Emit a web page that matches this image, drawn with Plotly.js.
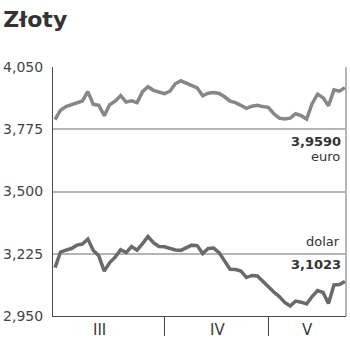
<!DOCTYPE html>
<html>
<head>
<meta charset="utf-8">
<script src="https://cdn.plot.ly/plotly-3.0.1.min.js"></script>
<style>html,body{margin:0;padding:0;background:#fff;}#chart{width:350px;height:351px;}</style>
</head>
<body>
<div id="chart"></div>
<script>
// trading-day index (March .. May)
const days = [0,1,2,3,4,5,6,7,8,9,10,11,12,13,14,15,16,17,18,19,20,21,22,23,24,25,26,27,28,29,30,31,32,33,34,35,36,37,38,39,40,41,42,43,44,45,46,47,48,49,50,51,52,53];
const euro = [3.817,3.859,3.875,3.884,3.893,3.900,3.941,3.885,3.881,3.835,
              3.883,3.899,3.924,3.895,3.901,3.893,3.941,3.963,3.947,3.938,
              3.932,3.943,3.976,3.989,3.978,3.966,3.958,3.9225,3.934,3.937,
              3.933,3.9185,3.899,3.8925,3.880,3.867,3.877,3.881,3.875,3.872,
              3.8435,3.824,3.8205,3.824,3.8435,3.835,3.820,3.888,3.930,3.914,
              3.879,3.949,3.943,3.959];
const dollar = [3.164,3.232,3.241,3.248,3.263,3.268,3.290,3.239,3.216,3.148,
                3.186,3.210,3.243,3.230,3.257,3.241,3.270,3.301,3.274,3.257,
                3.256,3.248,3.242,3.240,3.250,3.263,3.261,3.226,3.248,3.250,
                3.230,3.1905,3.1565,3.155,3.1485,3.120,3.129,3.1265,3.102,3.078,
                3.056,3.036,3.0096,2.994,3.016,3.011,3.003,3.036,3.0625,3.054,
                3.005,3.087,3.089,3.1023];
const yTickVals = [2.950, 3.225, 3.500, 3.775, 4.050];
const yTickText = ['2,950', '3,225', '3,500', '3,775', '4,050'];
const darkLines = [3.225, 3.775];
const monthBounds = [20, 39];
const months = ['III', 'IV', 'V'];
const monthPos = [8.2, 29.7, 46.1];
const euroLast = '3,9590';
const dollarLast = '3,1023';

const traces = [
  {x: days, y: euro, type: 'scatter', mode: 'lines', line: {color: '#878787', width: 3.5}, hoverinfo: 'skip'},
  {x: days, y: dollar, type: 'scatter', mode: 'lines', line: {color: '#6a6a6a', width: 3.5}, hoverinfo: 'skip'}
];

const shapes = darkLines.map(v => ({type: 'line', xref: 'paper', x0: 0, x1: 1, yref: 'y', y0: v, y1: v,
  line: {color: '#4a4a4a', width: 1}, layer: 'below'}));
shapes.push({type: 'line', xref: 'paper', x0: 1, x1: 1, yref: 'paper', y0: 0, y1: 1,
  line: {color: '#b5b5b5', width: 2}, layer: 'below'});

const annotations = months.map((m, i) => ({x: monthPos[i], xref: 'x', y: -0.055, yref: 'paper',
  text: m, showarrow: false, xanchor: 'center', yanchor: 'middle',
  font: {family: 'DejaVu Sans', size: 15, color: '#3a3a3a'}}));
annotations.push(
  {x: 0.99, xref: 'paper', y: 3.775, yref: 'y', yanchor: 'top', xanchor: 'right', yshift: -3,
   text: euroLast, showarrow: false, font: {family: 'DejaVu Sans', size: 13, color: '#333', weight: 700}},
  {x: 0.985, xref: 'paper', y: 3.775, yref: 'y', yanchor: 'top', xanchor: 'right', yshift: -18,
   text: 'euro', showarrow: false, font: {family: 'DejaVu Sans', size: 13, color: '#333'}},
  {x: 0.985, xref: 'paper', y: 3.225, yref: 'y', yanchor: 'bottom', xanchor: 'right', yshift: 3,
   text: 'dolar', showarrow: false, font: {family: 'DejaVu Sans', size: 13, color: '#333'}},
  {x: 0.99, xref: 'paper', y: 3.225, yref: 'y', yanchor: 'top', xanchor: 'right', yshift: -1,
   text: dollarLast, showarrow: false, font: {family: 'DejaVu Sans', size: 13, color: '#333', weight: 700}}
);

const layout = {
  width: 350, height: 351,
  margin: {l: 53, r: 4, t: 67, b: 35, pad: 0},
  paper_bgcolor: '#fff', plot_bgcolor: '#fff',
  showlegend: false,
  title: {text: 'Złoty', x: 0.009, xref: 'container', xanchor: 'left', y: 0.946, yref: 'container', yanchor: 'middle',
    font: {family: 'DejaVu Sans', size: 22, color: '#333', weight: 700}},
  xaxis: {range: [-0.37, 53.2], tickvals: monthBounds, showticklabels: false, ticks: 'outside', ticklen: 19,
    tickcolor: '#444', tickwidth: 1, showgrid: false, zeroline: false, showline: true, linecolor: '#4a4a4a', linewidth: 1, fixedrange: true},
  yaxis: {range: [2.950, 4.050], tickvals: yTickVals, ticktext: yTickText, ticks: '', ticklabelstandoff: 6,
    showgrid: true, gridcolor: '#b5b5b5', gridwidth: 2, zeroline: false, showline: true, linecolor: '#4a4a4a', linewidth: 1,
    tickfont: {family: 'DejaVu Sans', size: 14, color: '#444'}, fixedrange: true},
  shapes: shapes,
  annotations: annotations
};

Plotly.newPlot('chart', traces, layout, {staticPlot: true, displayModeBar: false});
</script>
</body>
</html>
